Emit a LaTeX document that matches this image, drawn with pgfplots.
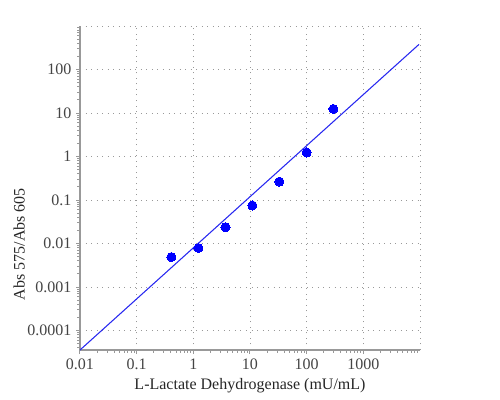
\documentclass[border=0pt]{standalone}
\usepackage{fontspec}
\setmainfont{Liberation Serif}
\usepackage{pgfplots}
\pgfplotsset{compat=1.18}
\definecolor{tickgray}{HTML}{999999}
\definecolor{labgray}{HTML}{444444}
\begin{document}
\begin{tikzpicture}
\begin{axis}[
  at={(0pt,0pt)}, anchor=south west,
  scale only axis, width=255pt, height=243pt,
  xmode=log, ymode=log,
  xmin=0.01, xmax=10000, ymin=3.58e-5, ymax=1000,
  axis x line*=bottom, axis y line*=left,
  xtick={0.01,0.1,1,10,100,1000},
  xticklabels={0.01,0.1,1,10,100,1000},
  ytick={0.0001,0.001,0.01,0.1,1,10,100},
  yticklabels={0.0001,0.001,0.01,0.1,1,10,100},
  extra x ticks={10000}, extra x tick labels={},
  extra x tick style={major tick length=0pt, grid=major},
  extra y ticks={1000}, extra y tick labels={},
  extra y tick style={major tick length=0pt, grid=major},
  minor xtick={0.02,0.03,0.04,0.05,0.06,0.07,0.08,0.09,0.2,0.3,0.4,0.5,0.6,0.7,0.8,0.9,2,3,4,5,6,7,8,9,20,30,40,50,60,70,80,90,200,300,400,500,600,700,800,900,2000,3000,4000,5000,6000,7000,8000,9000},
  minor ytick={0.00004,0.00005,0.00006,0.00007,0.00008,0.00009,0.0002,0.0003,0.0004,0.0005,0.0006,0.0007,0.0008,0.0009,0.002,0.003,0.004,0.005,0.006,0.007,0.008,0.009,0.02,0.03,0.04,0.05,0.06,0.07,0.08,0.09,0.2,0.3,0.4,0.5,0.6,0.7,0.8,0.9,2,3,4,5,6,7,8,9,20,30,40,50,60,70,80,90,200,300,400,500,600,700,800,900},
  grid=major,
  major grid style={tickgray, line width=0.6pt, dash pattern=on 0.75pt off 3.4pt},
  minor grid style={draw=none},
  axis line style={tickgray, line width=1pt},
  tick style={tickgray, line width=0.75pt},
  major tick length=3pt, minor tick length=2pt, tick align=outside,
  /pgf/number format/assume math mode=true,
  ticklabel style={font=\fontsize{12}{14}\selectfont, text=labgray},
  label style={font=\fontsize{12}{14}\selectfont, text=black!85},
  xlabel={L-Lactate Dehydrogenase (mU/mL)},
  ylabel={Abs 575/Abs 605},
  xlabel style={at={(axis description cs:0.5,-0.111)}, anchor=center},
  ylabel style={at={(axis description cs:-0.179,0.327)}, anchor=center},
]
\addplot[draw={rgb,255:red,40;green,40;blue,240}, line width=0.8pt] coordinates {(0.01,3.58e-5) (9600,378)};
\addplot[only marks, mark=*, mark size=3.4pt, mark options={fill=blue, draw=blue, line width=0pt}] coordinates {
(0.41,0.0049) (1.23,0.0079) (3.7,0.0238) (11.0,0.075) (33,0.265) (100,1.24) (296,12.4)};
\end{axis}
\pgfresetboundingbox
\useasboundingbox (-60pt,-37.5pt) rectangle (315pt,262.5pt);
\end{tikzpicture}
\end{document}
